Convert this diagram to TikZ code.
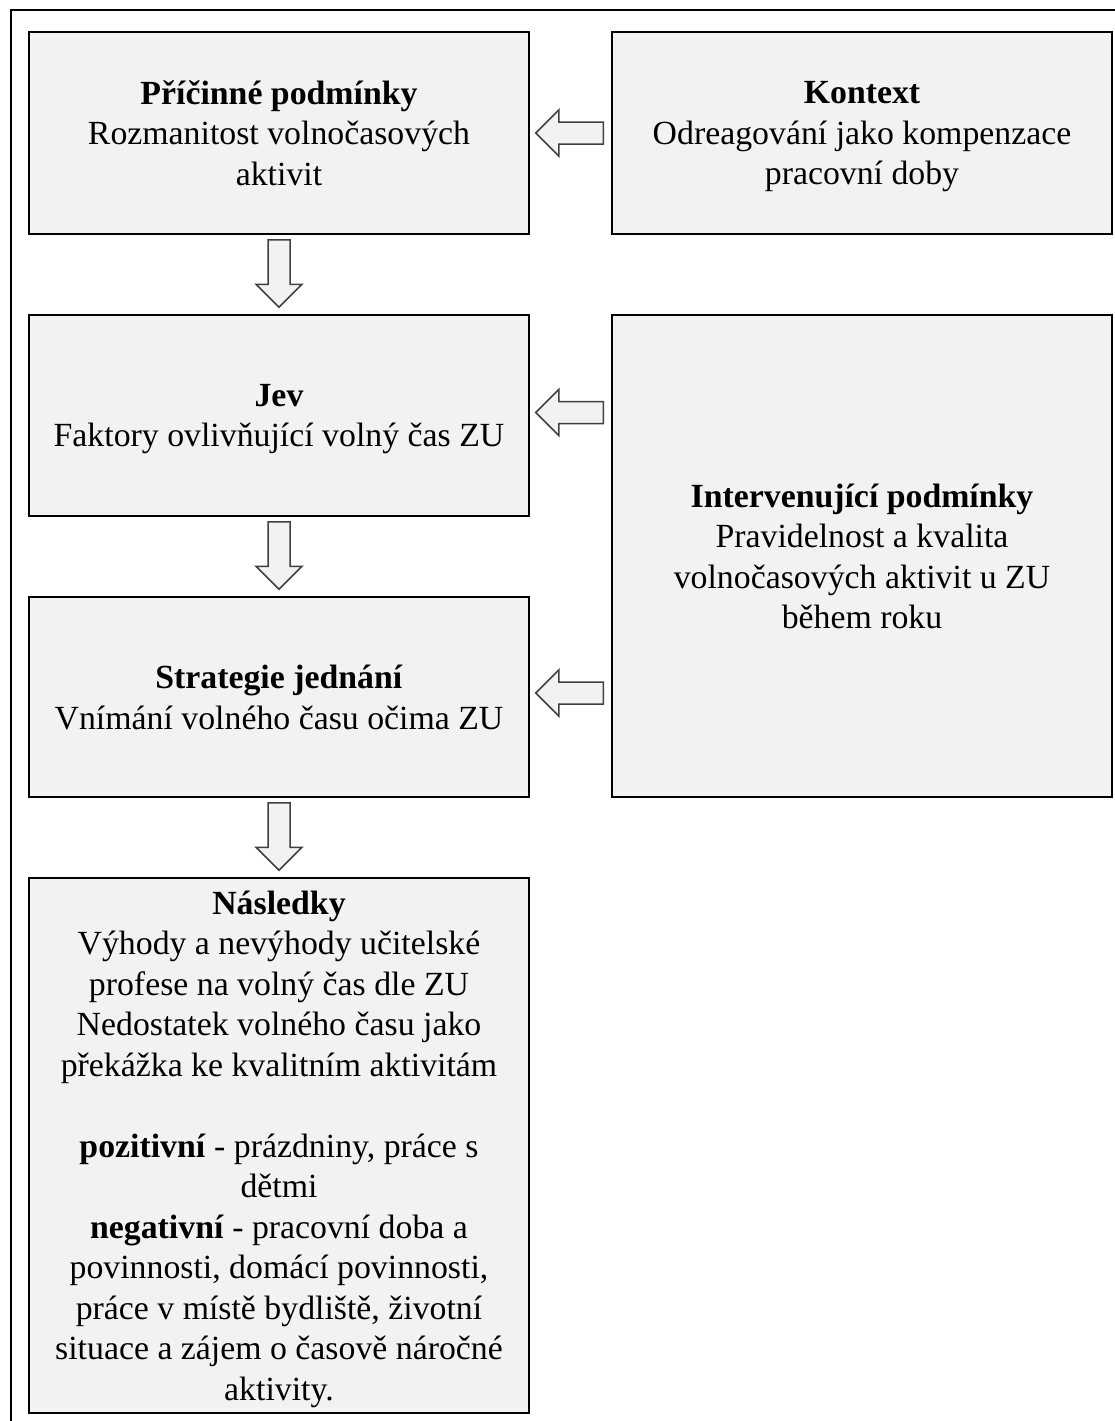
\documentclass[tikz,border=0pt]{standalone}
\usepackage{fontspec}
\setmainfont{Liberation Serif}
\usetikzlibrary{calc}

\definecolor{boxgray}{RGB}{242,242,242}
\definecolor{arrowline}{RGB}{64,64,64}

% hollow block arrow from #1 (tail) to #2 (tip)
\newcommand{\hollowarrow}[2]{%
  \coordinate (hb) at ($(#2)!23pt!(#1)$);
  \draw[arrowbox] ($(#1)!11pt!90:(#2)$) -- ($(hb)!11pt!90:(#2)$) -- ($(hb)!23pt!90:(#2)$) -- (#2)
    -- ($(hb)!23pt!-90:(#2)$) -- ($(hb)!11pt!-90:(#2)$) -- ($(#1)!11pt!-90:(#2)$) -- cycle;
}

\begin{document}
\begin{tikzpicture}[x=1pt,y=-1pt,
    box/.style={draw, fill=boxgray, line width=1.5pt, minimum width=500pt, align=center,
      inner sep=0pt, font=\fontsize{33.8}{40.5}\selectfont, text depth=-0.5pt},
    arrowbox/.style={draw=arrowline, fill=boxgray, line width=1.5pt}]
    \useasboundingbox (0,0) rectangle (1114,1421);
    \draw[line width=1.5pt] (11,10) rectangle (1140,1450);

    \node[box, minimum height=202pt] (pricinne) at (279,133)
        {\textbf{Příčinné podmínky}\\Rozmanitost volnočasových\\aktivit};
    \node[box, minimum height=202pt] (kontext) at (862,133)
        {\textbf{Kontext}\\Odreagování jako kompenzace\\pracovní doby};
    \node[box, minimum height=201pt] (jev) at (279,415.5)
        {\textbf{Jev}\\Faktory ovlivňující volný čas ZU};
    \node[box, minimum height=482pt] (interv) at (862,556)
        {\textbf{Intervenující podmínky}\\Pravidelnost a kvalita\\volnočasových aktivit u ZU\\během roku};
    \node[box, minimum height=200pt] (strategie) at (279,697)
        {\textbf{Strategie jednání}\\Vnímání volného času očima ZU};
    \node[box, minimum height=535pt] (nasledky) at (279,1145.5)
        {\textbf{Následky}\\Výhody a nevýhody učitelské\\profese na volný čas dle ZU\\Nedostatek volného času jako\\překážka ke kvalitním aktivitám\\[40.5pt]
         \textbf{pozitivní} - prázdniny, práce s\\dětmi\\\textbf{negativní} - pracovní doba a\\povinnosti, domácí povinnosti,\\práce v místě bydliště, životní\\situace a zájem o časově náročné\\aktivity.};

    % arrows into the left column
    \coordinate (k1) at ($(kontext.west)+(-8,0)$);
    \coordinate (p1) at ($(pricinne.east)+(6,0)$);
    \coordinate (i1) at ($(interv.west |- jev.east)+(-8,-3)$);
    \coordinate (j1) at ($(jev.east)+(6,-3)$);
    \coordinate (i2) at ($(interv.west |- strategie.east)+(-8,-4)$);
    \coordinate (s1) at ($(strategie.east)+(6,-4)$);
    \hollowarrow{k1}{p1}
    \hollowarrow{i1}{j1}
    \hollowarrow{i2}{s1}

    % arrows down the left column
    \coordinate (p2) at ($(pricinne.south)+(0,5)$);
    \coordinate (j2) at ($(jev.north)+(0,-7)$);
    \coordinate (j3) at ($(jev.south)+(0,5)$);
    \coordinate (s2) at ($(strategie.north)+(0,-7)$);
    \coordinate (s3) at ($(strategie.south)+(0,5)$);
    \coordinate (n1) at ($(nasledky.north)+(0,-7)$);
    \hollowarrow{p2}{j2}
    \hollowarrow{j3}{s2}
    \hollowarrow{s3}{n1}
\end{tikzpicture}
\end{document}
